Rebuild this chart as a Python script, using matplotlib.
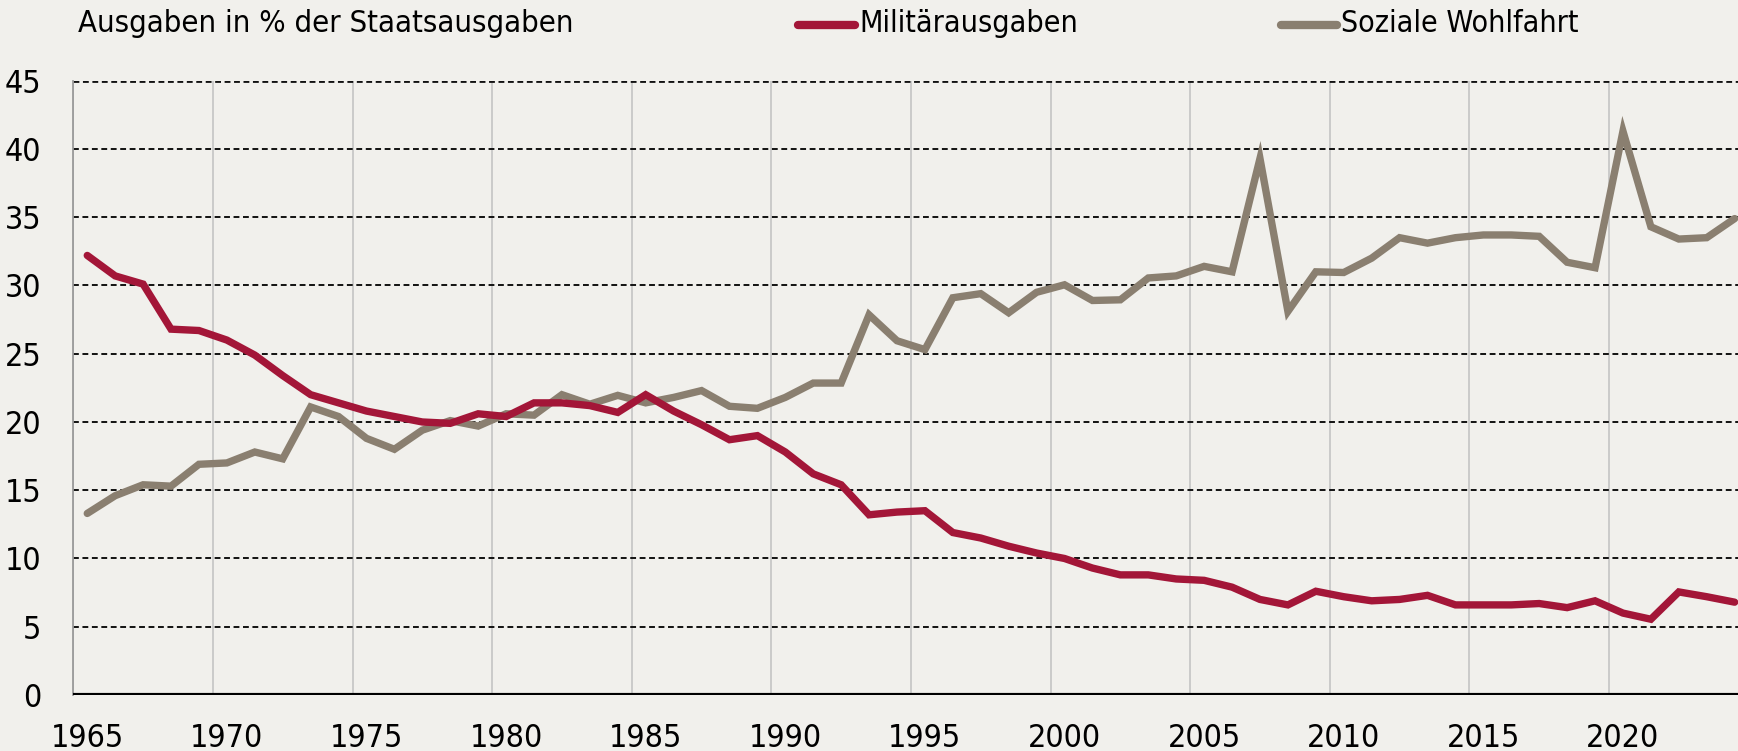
import matplotlib
matplotlib.use("Agg")
import matplotlib.pyplot as plt
from matplotlib.lines import Line2D
import numpy as np

# Ausgaben in % der Staatsausgaben, 1965-2024
years = list(range(1965, 2025))
military = [32.2, 30.7, 30.1, 26.8, 26.7, 26.0, 24.9, 23.4, 22.0, 21.4,
            20.8, 20.4, 20.0, 19.9, 20.6, 20.4, 21.4, 21.4, 21.2, 20.7,
            22.0, 20.8, 19.8, 18.7, 19.0, 17.8, 16.2, 15.4, 13.2, 13.4,
            13.5, 11.9, 11.5, 10.9, 10.4, 10.0, 9.3, 8.8, 8.8, 8.5,
            8.4, 7.9, 7.0, 6.6, 7.6, 7.2, 6.9, 7.0, 7.3, 6.6,
            6.6, 6.6, 6.7, 6.4, 6.9, 6.0, 5.55, 7.55, 7.2, 6.8]
social = [13.3, 14.6, 15.4, 15.3, 16.9, 17.0, 17.8, 17.3, 21.1, 20.4,
          18.8, 18.0, 19.4, 20.1, 19.7, 20.6, 20.5, 22.0, 21.3, 21.95,
          21.4, 21.8, 22.3, 21.15, 21.0, 21.8, 22.85, 22.85, 27.85, 25.95,
          25.3, 29.1, 29.4, 28.0, 29.5, 30.05, 28.9, 28.95, 30.55, 30.7,
          31.4, 31.0, 39.3, 28.1, 31.0, 30.95, 32.0, 33.5, 33.1, 33.5,
          33.7, 33.7, 33.6, 31.7, 31.3, 41.3, 34.3, 33.4, 33.5, 34.9]
y_ticks = [0, 5, 10, 15, 20, 25, 30, 35, 40, 45]
x_ticks = list(range(1965, 2021, 5))

bg = "#f1f0ec"
red = "#a31638"
grey = "#8a7f70"

plt.rcParams["font.family"] = "DejaVu Sans"
plt.rcParams["font.stretch"] = "condensed"
plt.rcParams["lines.scale_dashes"] = False

W, H = 1738, 751
fig = plt.figure(figsize=(W / 100, H / 100), dpi=100)
fig.patch.set_facecolor(bg)

x0, x1 = 73.3, 1738
y_top, y_bot = 80.7, 695.0
ax = fig.add_axes([x0 / W, 1 - y_bot / H, (x1 - x0) / W, (y_bot - y_top) / H])
ax.set_facecolor(bg)

# points sit in the middle of each year
xs = np.array(years) + 0.5
ax.plot(xs, military, color=red, lw=5.3, solid_capstyle="round", solid_joinstyle="miter", zorder=4)
ax.plot(xs, social, color=grey, lw=5.3, solid_capstyle="round", solid_joinstyle="miter", zorder=3)

ax.set_xlim(1965, 2024.62)
ax.set_ylim(0, 45)

# vertical grid at year boundaries, labels centred in the year
for x in x_ticks:
    ax.axvline(x, color="#c4c4c4", lw=1.2, zorder=1)
for y in y_ticks[1:]:
    ax.axhline(y, color="#111111", lw=1.4 if y < 45 else 2.0, dashes=(4.2, 2.6), zorder=2)
ax.axhline(0, color="black", lw=3.0, zorder=5, solid_capstyle="butt")

ax.set_xticks([x + 0.5 for x in x_ticks])
ax.set_xticklabels([str(x) for x in x_ticks])
ax.set_yticks(y_ticks)
ax.set_yticklabels([str(y) for y in y_ticks])
ax.tick_params(axis="x", length=0, pad=20, labelsize=23)
ax.tick_params(axis="y", length=0, pad=23, labelsize=23)

for s in ["top", "right", "bottom"]:
    ax.spines[s].set_visible(False)
ax.spines["left"].set_color("#9a9a9a")
ax.spines["left"].set_linewidth(1.3)

# title and legend on top
fig.text(78 / W, 1 - 24 / H, "Ausgaben in % der Staatsausgaben", fontsize=22.2,
         va="center", ha="left")
legend_items = [("Militärausgaben", red, 798, 855), ("Soziale Wohlfahrt", grey, 1281, 1337)]
for label, col, lx0, lx1 in legend_items:
    fig.add_artist(Line2D([lx0 / W, lx1 / W], [1 - 25 / H, 1 - 25 / H], color=col,
                          lw=6, solid_capstyle="round", transform=fig.transFigure))
    fig.text((lx1 + 4) / W, 1 - 24 / H, label, fontsize=21.8, va="center", ha="left")

fig.savefig("out.png", dpi=100, facecolor=bg)
